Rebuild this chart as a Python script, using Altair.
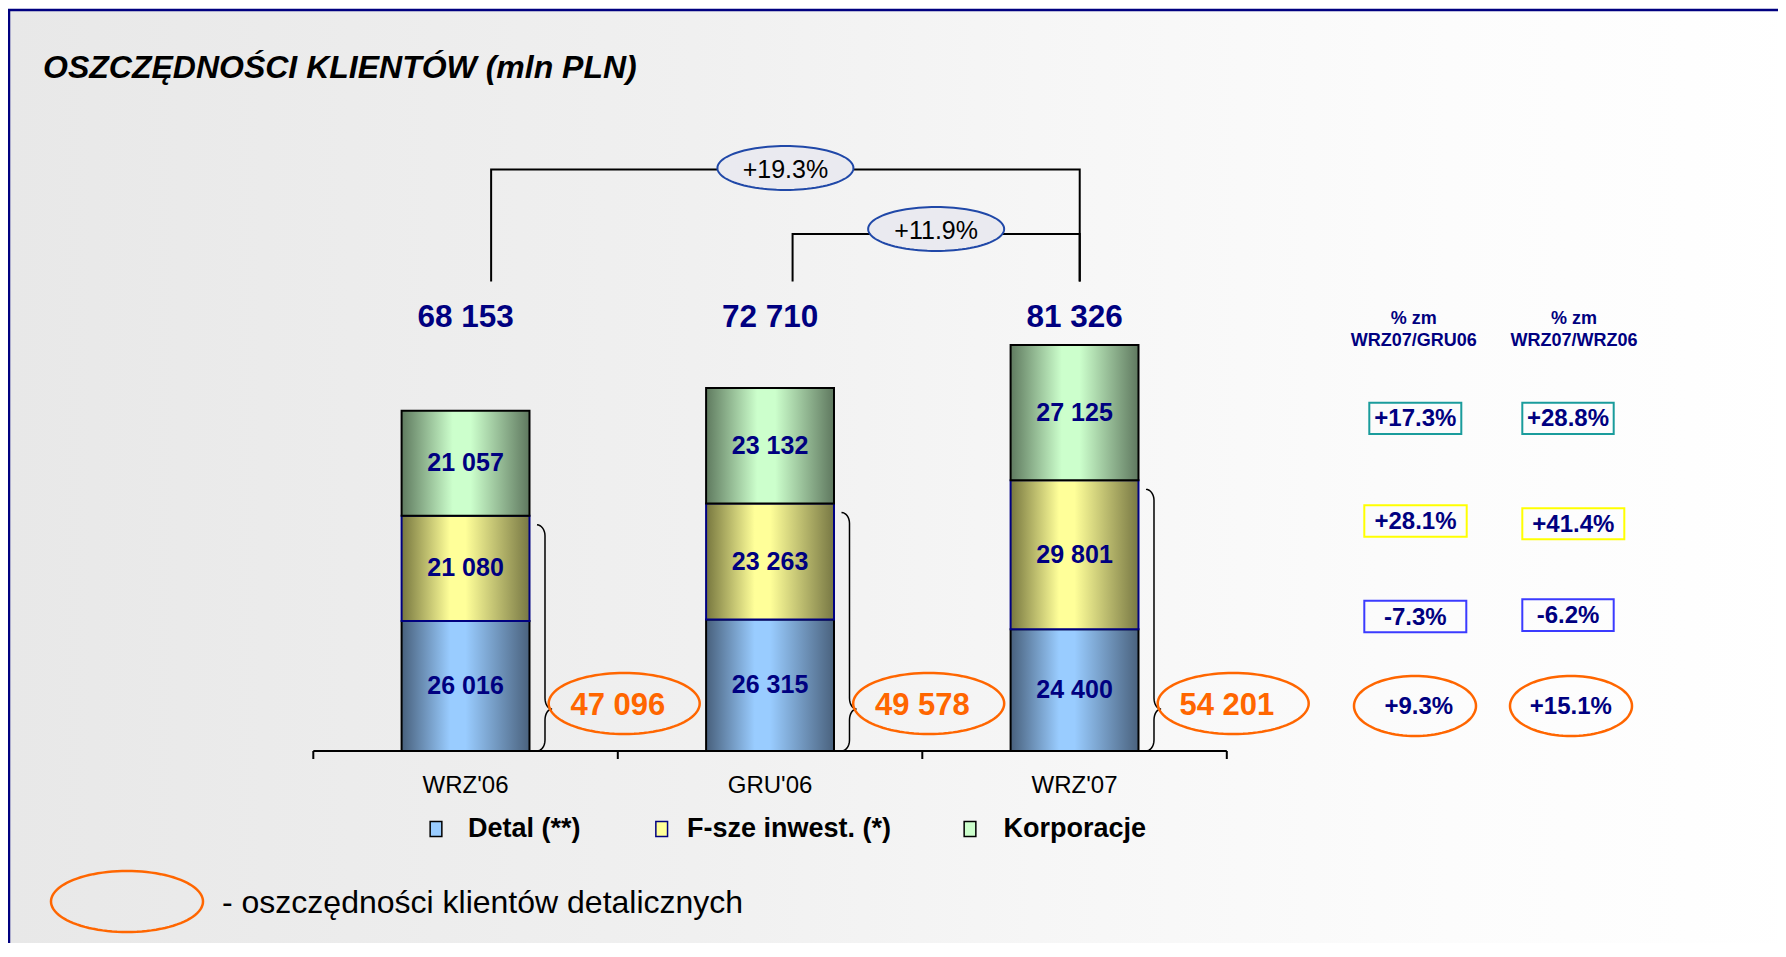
import math
import altair as alt
import pandas as pd

# ---------------- data ----------------
categories = ["WRZ'06", "GRU'06", "WRZ'07"]
series_names = ["Detal (**)", "F-sze inwest. (*)", "Korporacje"]
detal = [26016, 26315, 24400]
fsze = [21080, 23263, 29801]
korporacje = [21057, 23132, 27125]
totals = [68153, 72710, 81326]
retail = [47096, 49578, 54201]
growth_pairs = [(0, 2), (1, 2)]
growth_labels = ["+19.3%", "+11.9%"]
header_top = ["% zm", "% zm"]
header_bottom = ["WRZ07/GRU06", "WRZ07/WRZ06"]
# rows: Korporacje, F-sze, Detal, retail savings
chg_vs_gru = ["+17.3%", "+28.1%", "-7.3%", "+9.3%"]
chg_vs_wrz = ["+28.8%", "+41.4%", "-6.2%", "+15.1%"]
title_text = "OSZCZĘDNOŚCI KLIENTÓW (mln PLN)"
note_text = "- oszczędności klientów detalicznych"

# ---------------- geometry / style ----------------
FONT = "Liberation Sans"
NAVY = "#000080"
ORANGE = "#ff6600"
W, H = 1770, 935
OX, OY = 8, 8
BASE_FY = 751.0      # baseline (page px)
PPU = 0.004993       # px per mln PLN
X0_FX = 313.3        # left end of category axis (page px)
STEP = 304.5         # px per category
BW = 0.42            # bar width as fraction of step


def vx(fx):
    return fx - OX


def vy(fy):
    return fy - OY


def dx(fx):
    return (fx - X0_FX) / STEP


def dy(fy):
    return (BASE_FY - fy) / PPU


XS = alt.Scale(domain=[dx(OX), dx(OX + W)], nice=False, zero=False)
YS = alt.Scale(domain=[dy(OY + H), dy(OY)], nice=False, zero=False)


def X(f):
    return alt.X(f"{f}:Q", scale=XS, axis=None)


def Y(f):
    return alt.Y(f"{f}:Q", scale=YS, axis=None)


def ellipse_path(ratio, n=96):
    pts = []
    for k in range(n):
        t = 2 * math.pi * k / n
        pts.append(f"{math.cos(t):.4f},{ratio * math.sin(t):.4f}")
    return "M" + "L".join(pts) + "Z"


def grad(stops):
    return alt.LinearGradient(
        gradient="linear",
        stops=[alt.GradientStop(offset=o, color=c) for o, c in stops],
        x1=0, x2=1, y1=0, y2=0,
    )


one = pd.DataFrame({"a": [0]})
layers = []

# ---------------- background frame ----------------
bg = grad([(0, "#e8e8e8"), (0.38, "#f0f0f0"), (0.57, "#f6f6f6"), (0.8, "#fcfcfc"), (1, "#ffffff")])
layers.append(
    alt.Chart(one).mark_rect(fill=bg, stroke=NAVY, strokeWidth=2.5).encode(
        x=alt.value(1), x2=alt.value(1800), y=alt.value(2), y2=alt.value(1000)
    )
)

# ---------------- stacked bars ----------------
rows = []
for i, c in enumerate(categories):
    for j, (s, vals) in enumerate(zip(series_names, [detal, fsze, korporacje])):
        rows.append(dict(cat=c, idx=i, series=s, order=j, value=vals[i]))
bars_df = pd.DataFrame(rows)

stack_base = alt.Chart(bars_df).transform_stack(
    stack="value", groupby=["idx"], as_=["v0", "v1"],
    sort=[alt.SortField("order", order="ascending")],
).transform_calculate(
    xa=f"datum.idx + {(1 - BW) / 2}",
    xb=f"datum.idx + {(1 + BW) / 2}",
    xm="datum.idx + 0.5",
    mid="(datum.v0 + datum.v1) / 2",
    lab="replace(format(datum.value, ','), ',', ' ')",
)

gradients = [
    grad([(0, "#48607c"), (0.38, "#99ccff"), (0.5, "#99ccff"), (1, "#4a627e")]),
    grad([(0, "#77773f"), (0.38, "#ffff99"), (0.5, "#ffff99"), (1, "#787844")]),
    grad([(0, "#5f7a5f"), (0.4, "#ccffcc"), (0.54, "#ccffcc"), (1, "#5f785f")]),
]
strokes = ["#000000", NAVY, "#000000"]
for name, g, sc in zip(series_names, gradients, strokes):
    layers.append(
        stack_base.transform_filter(alt.datum.series == name)
        .mark_rect(fill=g, stroke=sc, strokeWidth=2)
        .encode(x=X("xa"), x2="xb:Q", y=Y("v0"), y2="v1:Q")
    )

layers.append(
    stack_base.mark_text(font=FONT, fontSize=25, fontWeight="bold", color=NAVY, baseline="middle")
    .encode(x=X("xm"), y=Y("mid"), text="lab:N")
)

# ---------------- category axis ----------------
n = len(categories)
layers.append(
    alt.Chart(pd.DataFrame({"x": [0], "x2": [n], "y": [0]}))
    .mark_rule(color="black", strokeWidth=2)
    .encode(x=X("x"), x2="x2:Q", y=Y("y"))
)
layers.append(
    alt.Chart(pd.DataFrame({"x": list(range(n + 1)), "y": [0] * (n + 1), "y2": [-8 / PPU] * (n + 1)}))
    .mark_rule(color="black", strokeWidth=2)
    .encode(x=X("x"), y=Y("y"), y2="y2:Q")
)
cat_df = pd.DataFrame({"cat": categories, "xm": [i + 0.5 for i in range(n)]})
layers.append(
    alt.Chart(cat_df).mark_text(font=FONT, fontSize=24, color="black", baseline="middle")
    .encode(x=X("xm"), y=alt.value(vy(786)), text="cat:N")
)

# ---------------- totals ----------------
tot_df = pd.DataFrame({"total": totals, "xm": [i + 0.5 for i in range(n)]})
layers.append(
    alt.Chart(tot_df).transform_calculate(lab="replace(format(datum.total, ','), ',', ' ')")
    .mark_text(font=FONT, fontSize=31.5, fontWeight="bold", color=NAVY, baseline="middle")
    .encode(x=X("xm"), y=alt.value(vy(318)), text="lab:N")
)

# ---------------- growth brackets ----------------
BR_OFF = [0.084, 0.074, 0.017]
BR_LEVEL = [169.5, 234.0]
BR_BOTTOM = 281.5
ELL_Y = [168.0, 229.0]
br_rows, ell_rows = [], []
for k, ((a, b), lab) in enumerate(zip(growth_pairs, growth_labels)):
    xa = a + 0.5 + BR_OFF[a]
    xb = b + 0.5 + BR_OFF[b]
    pts = [(xa, BR_BOTTOM), (xa, BR_LEVEL[k]), (xb, BR_LEVEL[k]), (xb, BR_BOTTOM)]
    for s, (px, py) in enumerate(pts):
        br_rows.append(dict(bid=k, seq=s, x=px, y=dy(py)))
    ell_rows.append(dict(x=(xa + xb) / 2, y=dy(ELL_Y[k]), ty=dy(ELL_Y[k] + 1.5), lab=lab))
br_df = pd.DataFrame(br_rows)
ell_df = pd.DataFrame(ell_rows)
layers.append(
    alt.Chart(br_df).mark_line(color="black", strokeWidth=2)
    .encode(x=X("x"), y=Y("y"), detail="bid:N", order="seq:Q")
)
layers.append(
    alt.Chart(ell_df).mark_point(shape=ellipse_path(44 / 136), size=136 * 136, filled=True,
                                 fill="#eaeaf0", stroke="#2048a8", strokeWidth=2, opacity=1)
    .encode(x=X("x"), y=Y("y"))
)
layers.append(
    alt.Chart(ell_df).mark_text(font=FONT, fontSize=25, color="black", baseline="middle")
    .encode(x=X("x"), y=Y("ty"), text="lab:N")
)

# ---------------- braces next to bars ----------------
R = 11.0
brace_rows = []
for i in range(n):
    xr = i + 0.5 + BW / 2
    x0, x1, x2 = xr + 7.5 / STEP, xr + 15.5 / STEP, xr + 22.5 / STEP
    ytop = detal[i] + fsze[i] - 9 / PPU
    ytip = dy(709)
    ybot = 0.0
    r = R / PPU
    pts = []
    m = 8
    for q in range(m + 1):  # top hook
        t = -math.pi / 2 + (math.pi / 2) * q / m
        pts.append((x0 + (x1 - x0) * math.cos(t), ytop - r - r * math.sin(t)))
    for q in range(m + 1):  # into tip (upper)
        t = math.pi - (math.pi / 2) * q / m
        pts.append((x2 + (x2 - x1) * math.cos(t), ytip + r - r * math.sin(t)))
    for q in range(m + 1):  # out of tip (lower)
        t = -math.pi / 2 - (math.pi / 2) * q / m
        pts.append((x2 + (x2 - x1) * math.cos(t), ytip - r - r * math.sin(t)))
    for q in range(m + 1):  # bottom hook
        t = (math.pi / 2) * q / m
        pts.append((x0 + (x1 - x0) * math.cos(t), ybot + r - r * math.sin(t)))
    for s, (px, py) in enumerate(pts):
        brace_rows.append(dict(bid=i, seq=s, x=px, y=py))
layers.append(
    alt.Chart(pd.DataFrame(brace_rows)).mark_line(color="black", strokeWidth=1.5)
    .encode(x=X("x"), y=Y("y"), detail="bid:N", order="seq:Q")
)

# ---------------- retail savings ellipses ----------------
ret_df = pd.DataFrame({
    "retail": retail,
    "ex": [i + 1.021 for i in range(n)],
    "tx": [i + 1.0 for i in range(n)],
})
layers.append(
    alt.Chart(ret_df).mark_point(shape=ellipse_path(61 / 151), size=151 * 151, filled=False,
                                 stroke=ORANGE, strokeWidth=2.5, opacity=1)
    .encode(x=X("ex"), y=alt.value(vy(703.5)))
)
layers.append(
    alt.Chart(ret_df).transform_calculate(lab="replace(format(datum.retail, ','), ',', ' ')")
    .mark_text(font=FONT, fontSize=31, fontWeight="bold", color=ORANGE, baseline="middle")
    .encode(x=X("tx"), y=alt.value(vy(706)), text="lab:N")
)

# ---------------- right-hand table ----------------
hdr_df = pd.DataFrame({
    "x": [dx(1413.8), dx(1574.0), dx(1413.8), dx(1574.0)],
    "y": [dy(319), dy(319), dy(341), dy(341)],
    "lab": header_top + header_bottom,
})
layers.append(
    alt.Chart(hdr_df).mark_text(font=FONT, fontSize=18, fontWeight="bold", color=NAVY, baseline="middle")
    .encode(x=X("x"), y=Y("y"), text="lab:N")
)
box_specs = [  # x1, x2, y1, y2 (page px), colour
    (1369.3, 1461.3, 402.7, 434.0, "#1a9c9c"),
    (1364.3, 1466.7, 505.3, 536.7, "#ffff00"),
    (1364.3, 1466.3, 600.7, 632.3, "#3b3bff"),
    (1522.3, 1613.7, 402.7, 434.0, "#1a9c9c"),
    (1522.3, 1624.3, 508.3, 539.3, "#ffff00"),
    (1522.3, 1613.7, 599.3, 631.0, "#3b3bff"),
]
box_labels = chg_vs_gru[:3] + chg_vs_wrz[:3]
box_df = pd.DataFrame({
    "x1": [dx(b[0]) for b in box_specs],
    "x2": [dx(b[1]) for b in box_specs],
    "y1": [dy(b[2]) for b in box_specs],
    "y2": [dy(b[3]) for b in box_specs],
    "xm": [dx((b[0] + b[1]) / 2) for b in box_specs],
    "ym": [dy((b[2] + b[3]) / 2 + 1) for b in box_specs],
    "sc": [b[4] for b in box_specs],
    "lab": box_labels,
})
layers.append(
    alt.Chart(box_df).mark_rect(fillOpacity=0, strokeWidth=2)
    .encode(x=X("x1"), x2="x2:Q", y=Y("y1"), y2="y2:Q", stroke=alt.Stroke("sc:N", scale=None))
)
layers.append(
    alt.Chart(box_df).mark_text(font=FONT, fontSize=24, fontWeight="bold", color=NAVY, baseline="middle")
    .encode(x=X("xm"), y=Y("ym"), text="lab:N")
)
tab_ell_df = pd.DataFrame({
    "ex": [dx(1415), dx(1571)],
    "tx": [dx(1418.8), dx(1570.8)],
    "lab": [chg_vs_gru[3], chg_vs_wrz[3]],
})
layers.append(
    alt.Chart(tab_ell_df).mark_point(shape=ellipse_path(60 / 122), size=122 * 122, filled=False,
                                     stroke=ORANGE, strokeWidth=2.5, opacity=1)
    .encode(x=X("ex"), y=alt.value(vy(706)))
)
layers.append(
    alt.Chart(tab_ell_df).mark_text(font=FONT, fontSize=24, fontWeight="bold", color=NAVY, baseline="middle")
    .encode(x=X("tx"), y=alt.value(vy(707)), text="lab:N")
)

# ---------------- legend ----------------
leg_df = pd.DataFrame({
    "name": series_names,
    "sx": [dx(436), dx(661.7), dx(970)],
    "tx": [dx(468), dx(687), dx(1003.4)],
    "fill": ["#99ccff", "#ffff99", "#ccffcc"],
    "stroke": ["#000000", NAVY, "#000000"],
})
layers.append(
    alt.Chart(leg_df).mark_point(shape="M-0.78,-1L0.78,-1L0.78,1L-0.78,1Z", size=15 * 15,
                                 filled=True, strokeWidth=1.5, opacity=1)
    .encode(x=X("sx"), y=alt.value(vy(829)),
            fill=alt.Fill("fill:N", scale=None), stroke=alt.Stroke("stroke:N", scale=None))
)
layers.append(
    alt.Chart(leg_df).mark_text(font=FONT, fontSize=27, fontWeight="bold", color="black",
                                align="left", baseline="middle")
    .encode(x=X("tx"), y=alt.value(vy(829)), text="name:N")
)

# ---------------- footnote ----------------
layers.append(
    alt.Chart(one).mark_point(shape=ellipse_path(61 / 152), size=152 * 152, filled=False,
                              stroke=ORANGE, strokeWidth=2.5, opacity=1)
    .encode(x=alt.value(vx(127)), y=alt.value(vy(901.5)))
)
layers.append(
    alt.Chart(one).mark_text(font=FONT, fontSize=32, color="black", align="left", baseline="middle",
                             text=note_text)
    .encode(x=alt.value(vx(222)), y=alt.value(vy(903)))
)

# ---------------- title ----------------
layers.append(
    alt.Chart(one).mark_text(font=FONT, fontSize=32, fontWeight="bold", fontStyle="italic",
                             color="black", align="left", baseline="middle", text=title_text)
    .encode(x=alt.value(vx(43)), y=alt.value(vy(68)))
)

chart = alt.layer(*layers).properties(
    width=W, height=H, padding=0,
    autosize=alt.AutoSizeParams(type="none"),
    background="white",
).configure_view(stroke=None)

chart.save("out.html", embed_options={"renderer": "svg", "actions": False})
